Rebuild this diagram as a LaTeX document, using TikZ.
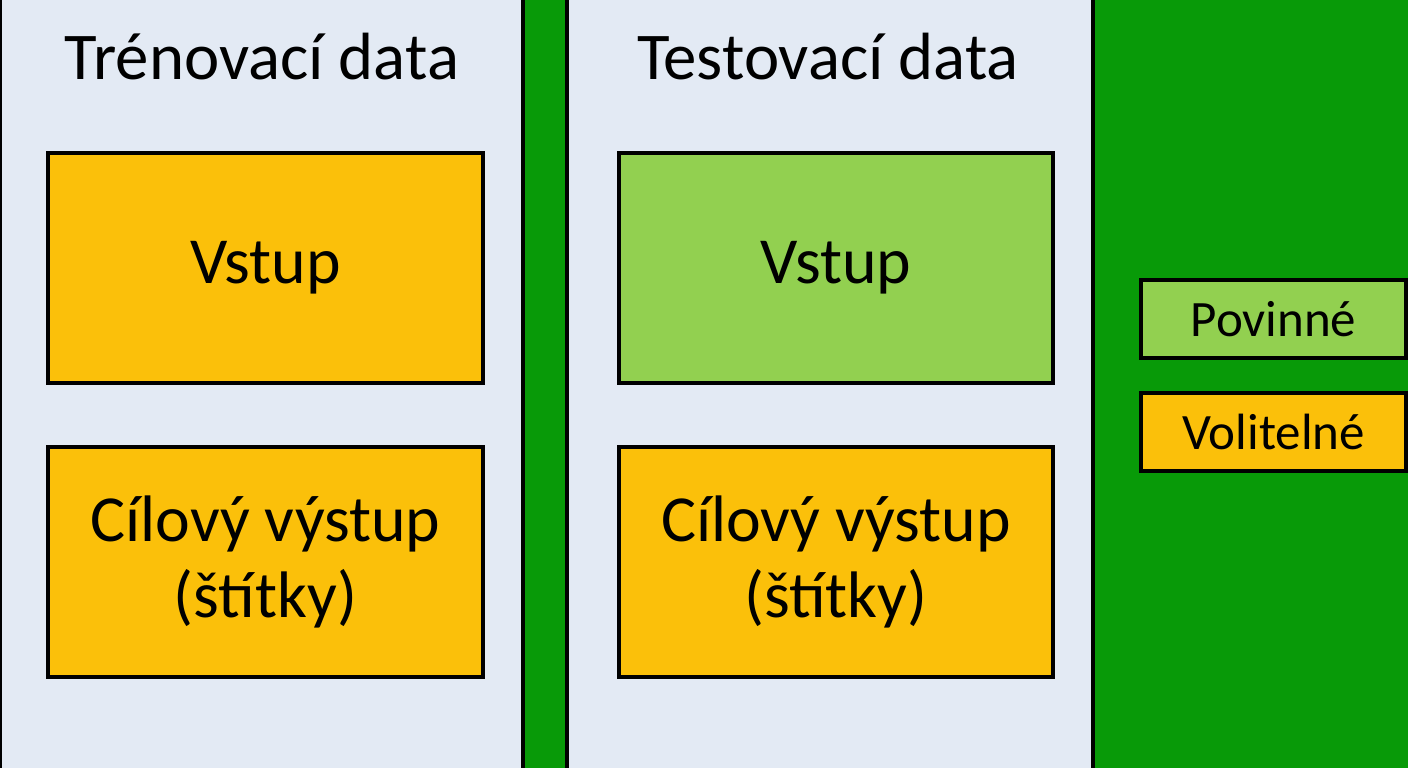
\documentclass[tikz,border=0pt]{standalone}
\usepackage{fontspec}
\setmainfont{Carlito}
\definecolor{bg}{HTML}{089A08}
\definecolor{panel}{HTML}{E3EAF4}
\definecolor{orange}{HTML}{FBC00A}
\definecolor{lgreen}{HTML}{92D050}
\begin{document}
\begin{tikzpicture}[x=0.01cm,y=-0.01cm,
  panel/.style={draw=black,line width=1.2pt,fill=panel},
  box/.style={draw=black,line width=1.2pt,align=center,font=\fontsize{18.7}{21.5}\selectfont},
  lbl/.style={font=\fontsize{19}{22}\selectfont},
  leg/.style={draw=black,line width=1.2pt,font=\fontsize{14.5}{17}\selectfont}]
\fill[bg] (0,0) rectangle (1408,768);
\useasboundingbox (0,0) rectangle (1408,768);
\draw[panel] (0,-5) rectangle (523,773);
\draw[panel] (567,-5) rectangle (1093,773);
\node[lbl] (t1) at (262,57) {Trénovací data};
\node[lbl] (t2) at (828,57) {Testovací data};
\draw[box,fill=orange] (48,153) rectangle (483,383) node[midway] (a1) {Vstup};
\draw[box,fill=orange] (48,447) rectangle (483,677) node[midway] (a2) {Cílový výstup\\(štítky)};
\draw[box,fill=lgreen] (619,153) rectangle (1053,383) node[midway] (b1) {Vstup};
\draw[box,fill=orange] (619,447) rectangle (1053,677) node[midway] (b2) {Cílový výstup\\(štítky)};
\draw[leg,fill=lgreen] (1141,280) rectangle (1406,358) node[midway] (l1) {Povinné};
\draw[leg,fill=orange] (1141,393) rectangle (1406,471) node[midway] (l2) {Volitelné};
\end{tikzpicture}
\end{document}
